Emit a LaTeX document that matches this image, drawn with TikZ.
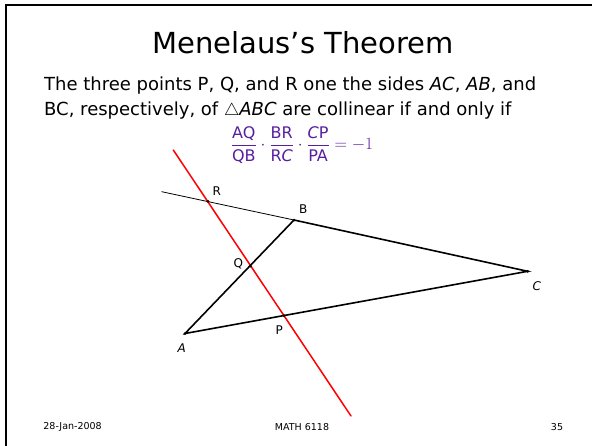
\documentclass[tikz,border=0pt]{standalone}
\usepackage{amsmath}
\usepackage{fontspec}
\setmainfont{DejaVu Sans}
\usetikzlibrary{calc}
\definecolor{ratiopurple}{RGB}{88,30,160}
\definecolor{transred}{RGB}{255,0,0}

\begin{document}
\begin{tikzpicture}[x=1pt, y=-1pt, line cap=round,
  side/.style={line width=1.6pt},
  dot/.style={circle, fill, inner sep=0pt, minimum size=3pt},
  lbl/.style={font=\fontsize{12}{14}\selectfont, inner sep=0pt},
  foot/.style={font=\fontsize{9.5}{11}\selectfont, inner sep=0pt}]
  \useasboundingbox (0,0) rectangle (592,445);
  % Slide frame
  \draw[line width=2pt] (6,5) rectangle (640,480);

  % Title and statement
  \node[anchor=base, inner sep=0pt, font=\fontsize{29}{34}\selectfont] (title) at (303,53) {Menelaus’s Theorem};
  \node[anchor=base west, inner sep=0pt, font=\fontsize{18}{21}\selectfont] (line1) at (44,90)
    {The three points P, Q, and R one the sides \textit{AC}, \textit{AB}, and};
  \node[anchor=base west, inner sep=0pt, font=\fontsize{18}{21}\selectfont] (line2) at (44,115)
    {BC, respectively, of $\triangle$\textit{ABC} are collinear if and only if};
  \node[ratiopurple, inner sep=0pt, font=\fontsize{16}{20}\selectfont] (ratio) at (302,145)
    {$\dfrac{\text{AQ}}{\text{QB}}\cdot\dfrac{\text{BR}}{\text{R\textit{C}}}\cdot\dfrac{\text{\textit{C}P}}{\text{PA}}=-1$};

  % Points
  \coordinate (A) at (185,333.5);
  \coordinate (B) at (294,220);
  \coordinate (C) at (527.7,271.3);
  \coordinate (P) at (284,315.7);
  \coordinate (Q) at (250.5,266);
  \coordinate (R) at (208,201.3);
  \coordinate (ext) at (161.7,191.7);
  \coordinate (redtop) at (173.3,150);
  \coordinate (redbot) at (351,416);

  % Transversal and triangle
  \draw[transred, line width=1.5pt] (redtop) -- (redbot);
  \draw[line width=0.8pt] (ext) -- (B);
  \draw[side] (A) -- (B) -- (C) -- cycle;
  \foreach \p in {A,B,C,P,Q,R} {
    \node[dot] (d\p) at (\p) {};
  }

  % Labels
  \node[lbl] (lR) at (216.7,190.7) {R};
  \node[lbl] (lB) at (303.3,209.3) {B};
  \node[lbl] (lQ) at (238.3,264) {Q};
  \node[lbl] (lC) at (536.7,286) {\textit{C}};
  \node[lbl] (lP) at (279.3,330) {P};
  \node[lbl] (lA) at (181.7,348.3) {\textit{A}};

  % Footer
  \node[foot] (date) at (72.6,427) {28-Jan-2008};
  \node[foot] (course) at (302,427) {MATH 6118};
  \node[foot] (page) at (557,427) {35};
\end{tikzpicture}
\end{document}
